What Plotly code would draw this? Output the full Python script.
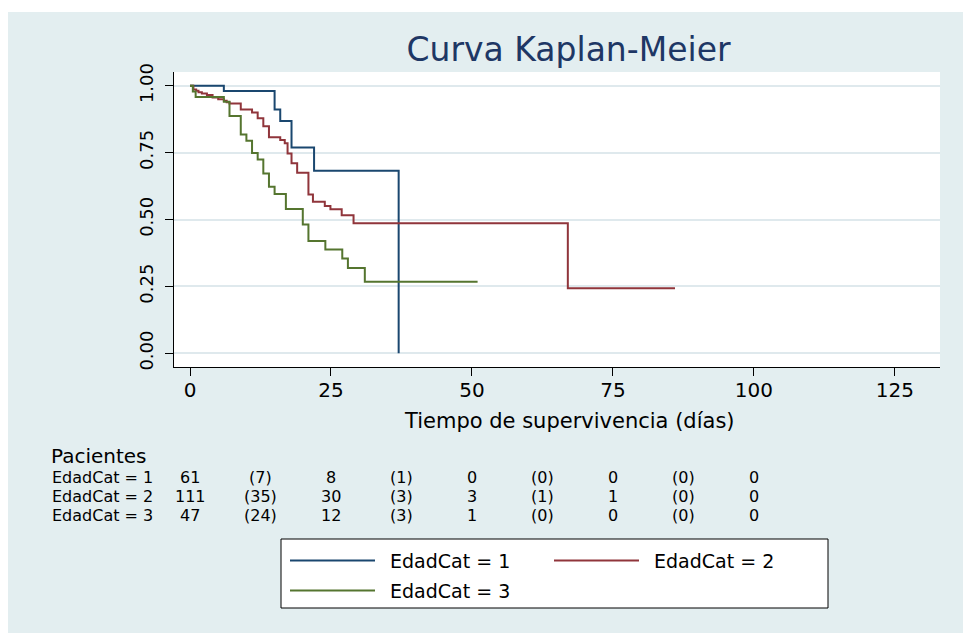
import plotly.graph_objects as go

# Kaplan-Meier step estimates per age group (time in days, survival probability)
grp1_t = [0, 6, 15, 16, 18, 22, 37]
grp1_s = [1.0, 0.980, 0.911, 0.868, 0.769, 0.682, 0.0]

grp2_t = [0, 0.6, 1.1, 1.5, 2.1, 3, 4, 5, 6, 6.5, 7, 9, 11, 12, 13, 14, 16, 16.8,
          17.3, 18, 19, 21, 21.8, 23.9, 24.9, 26.9, 29, 67, 86]
grp2_s = [1.0, 0.986, 0.981, 0.976, 0.971, 0.965, 0.956, 0.949, 0.944, 0.938, 0.934,
          0.911, 0.900, 0.878, 0.849, 0.807, 0.797, 0.785, 0.747, 0.710, 0.675, 0.593,
          0.566, 0.550, 0.538, 0.516, 0.486, 0.243, 0.243]

grp3_t = [0, 0.5, 1, 6, 7, 9, 10, 11, 12, 13, 14, 15, 17, 20, 21, 24, 27, 28, 31, 51]
grp3_s = [1.0, 0.978, 0.958, 0.940, 0.887, 0.818, 0.794, 0.749, 0.724, 0.672, 0.622,
          0.595, 0.539, 0.481, 0.420, 0.388, 0.354, 0.319, 0.267, 0.267]

group_names = ["EdadCat = 1", "EdadCat = 2", "EdadCat = 3"]
group_colors = ["#1a476f", "#90353b", "#55752f"]

# Number-at-risk table: patients at risk and (events) per interval
risk_times = [0, 25, 50, 75, 100]
event_times = [12.5, 37.5, 62.5, 87.5]
at_risk = [[61, 8, 0, 0, 0], [111, 30, 3, 1, 0], [47, 12, 1, 0, 0]]
events = [[7, 1, 0, 0], [35, 3, 1, 0], [24, 3, 0, 0]]

x_ticks = [0, 25, 50, 75, 100, 125]
y_ticks = [0, 0.25, 0.5, 0.75, 1.0]

W, H = 963, 633
ML, MR, MT, MB = 174, 23, 72, 266
PW, PH = W - ML - MR, H - MT - MB
BG = "#e3eef0"
FONT = "DejaVu Sans"


def px(xp):
    return (xp - ML) / PW


def py(yp):
    return (H - MB - yp) / PH


fig = go.Figure()
for t, s, name, col in zip([grp1_t, grp2_t, grp3_t], [grp1_s, grp2_s, grp3_s],
                           group_names, group_colors):
    fig.add_trace(go.Scatter(x=t, y=s, mode="lines", name=name,
                             line=dict(color=col, width=2, shape="hv"),
                             showlegend=False))

annotations = []
# axis title
annotations.append(dict(text="Tiempo de supervivencia (días)", xref="paper", yref="paper",
                        x=px(569), y=py(421), xanchor="center", yanchor="middle",
                        showarrow=False, font=dict(family=FONT, size=21, color="black")))

# at-risk table
annotations.append(dict(text="Pacientes", xref="paper", yref="paper", x=px(49), y=py(456),
                        xanchor="left", yanchor="middle", showarrow=False,
                        font=dict(family=FONT, size=20, color="black")))
row_y = [477.5, 496.5, 515.5]
for g in range(3):
    annotations.append(dict(text=group_names[g], xref="paper", yref="paper",
                            x=px(50), y=py(row_y[g]), xanchor="left", yanchor="middle",
                            showarrow=False, font=dict(family=FONT, size=16, color="black")))
    for t, n in zip(risk_times, at_risk[g]):
        annotations.append(dict(text=str(n), xref="x", yref="paper", x=t, y=py(row_y[g]),
                                xanchor="center", yanchor="middle", showarrow=False,
                                font=dict(family=FONT, size=16, color="black")))
    for t, n in zip(event_times, events[g]):
        annotations.append(dict(text=f"({n})", xref="x", yref="paper", x=t, y=py(row_y[g]),
                                xanchor="center", yanchor="middle", showarrow=False,
                                font=dict(family=FONT, size=16, color="black")))

shapes = [
    # white strips along the top and left edges
    dict(type="rect", xref="paper", yref="paper", x0=px(0), x1=px(W), y0=py(12), y1=py(0),
         fillcolor="white", line=dict(width=0), layer="below"),
    dict(type="rect", xref="paper", yref="paper", x0=px(0), x1=px(8), y0=py(H), y1=py(0),
         fillcolor="white", line=dict(width=0), layer="below"),
    # legend box
    dict(type="rect", xref="paper", yref="paper", x0=px(281), x1=px(828), y0=py(608),
         y1=py(539), fillcolor="white", line=dict(color="black", width=1)),
]

# legend entries: two columns, two rows
legend_pos = [(290, 560.5), (554, 560.5), (290, 590.5)]
for (lx, ly), name, col in zip(legend_pos, group_names, group_colors):
    shapes.append(dict(type="line", xref="paper", yref="paper", x0=px(lx), x1=px(lx + 85),
                       y0=py(ly), y1=py(ly), line=dict(color=col, width=2)))
    annotations.append(dict(text=name, xref="paper", yref="paper", x=px(lx + 98), y=py(ly),
                            xanchor="left", yanchor="middle", showarrow=False,
                            font=dict(family=FONT, size=19, color="black")))

fig.update_layout(
    width=W, height=H,
    margin=dict(l=ML, r=MR, t=MT, b=MB, pad=0),
    paper_bgcolor=BG, plot_bgcolor="white",
    title=dict(text="Curva Kaplan-Meier", xref="container", x=568.5 / W, xanchor="center",
               yref="container", y=1 - 49 / H, yanchor="middle",
               font=dict(family=FONT, size=33, color="#1e3765")),
    font=dict(family=FONT, color="black"),
    annotations=annotations,
    shapes=shapes,
    showlegend=False,
)

fig.update_xaxes(range=[-2.84, 133.0], tickvals=x_ticks, ticks="outside", ticklen=8,
                 tickwidth=1, tickcolor="black", showline=True, linecolor="black",
                 linewidth=1, showgrid=False, zeroline=False,
                 tickfont=dict(family=FONT, size=20, color="black"), ticklabelstandoff=-3)
fig.update_yaxes(range=[-0.0513, 1.0513], tickvals=y_ticks, tickformat=".2f",
                 ticks="outside", ticklen=8, tickwidth=1, tickcolor="black",
                 showline=True, linecolor="black", linewidth=1, showgrid=True,
                 gridcolor="#dfe9ed", gridwidth=2, zeroline=False, tickangle=-90,
                 tickfont=dict(family=FONT, size=18, color="black"), ticklabelstandoff=5)

fig.write_html("out.html")
